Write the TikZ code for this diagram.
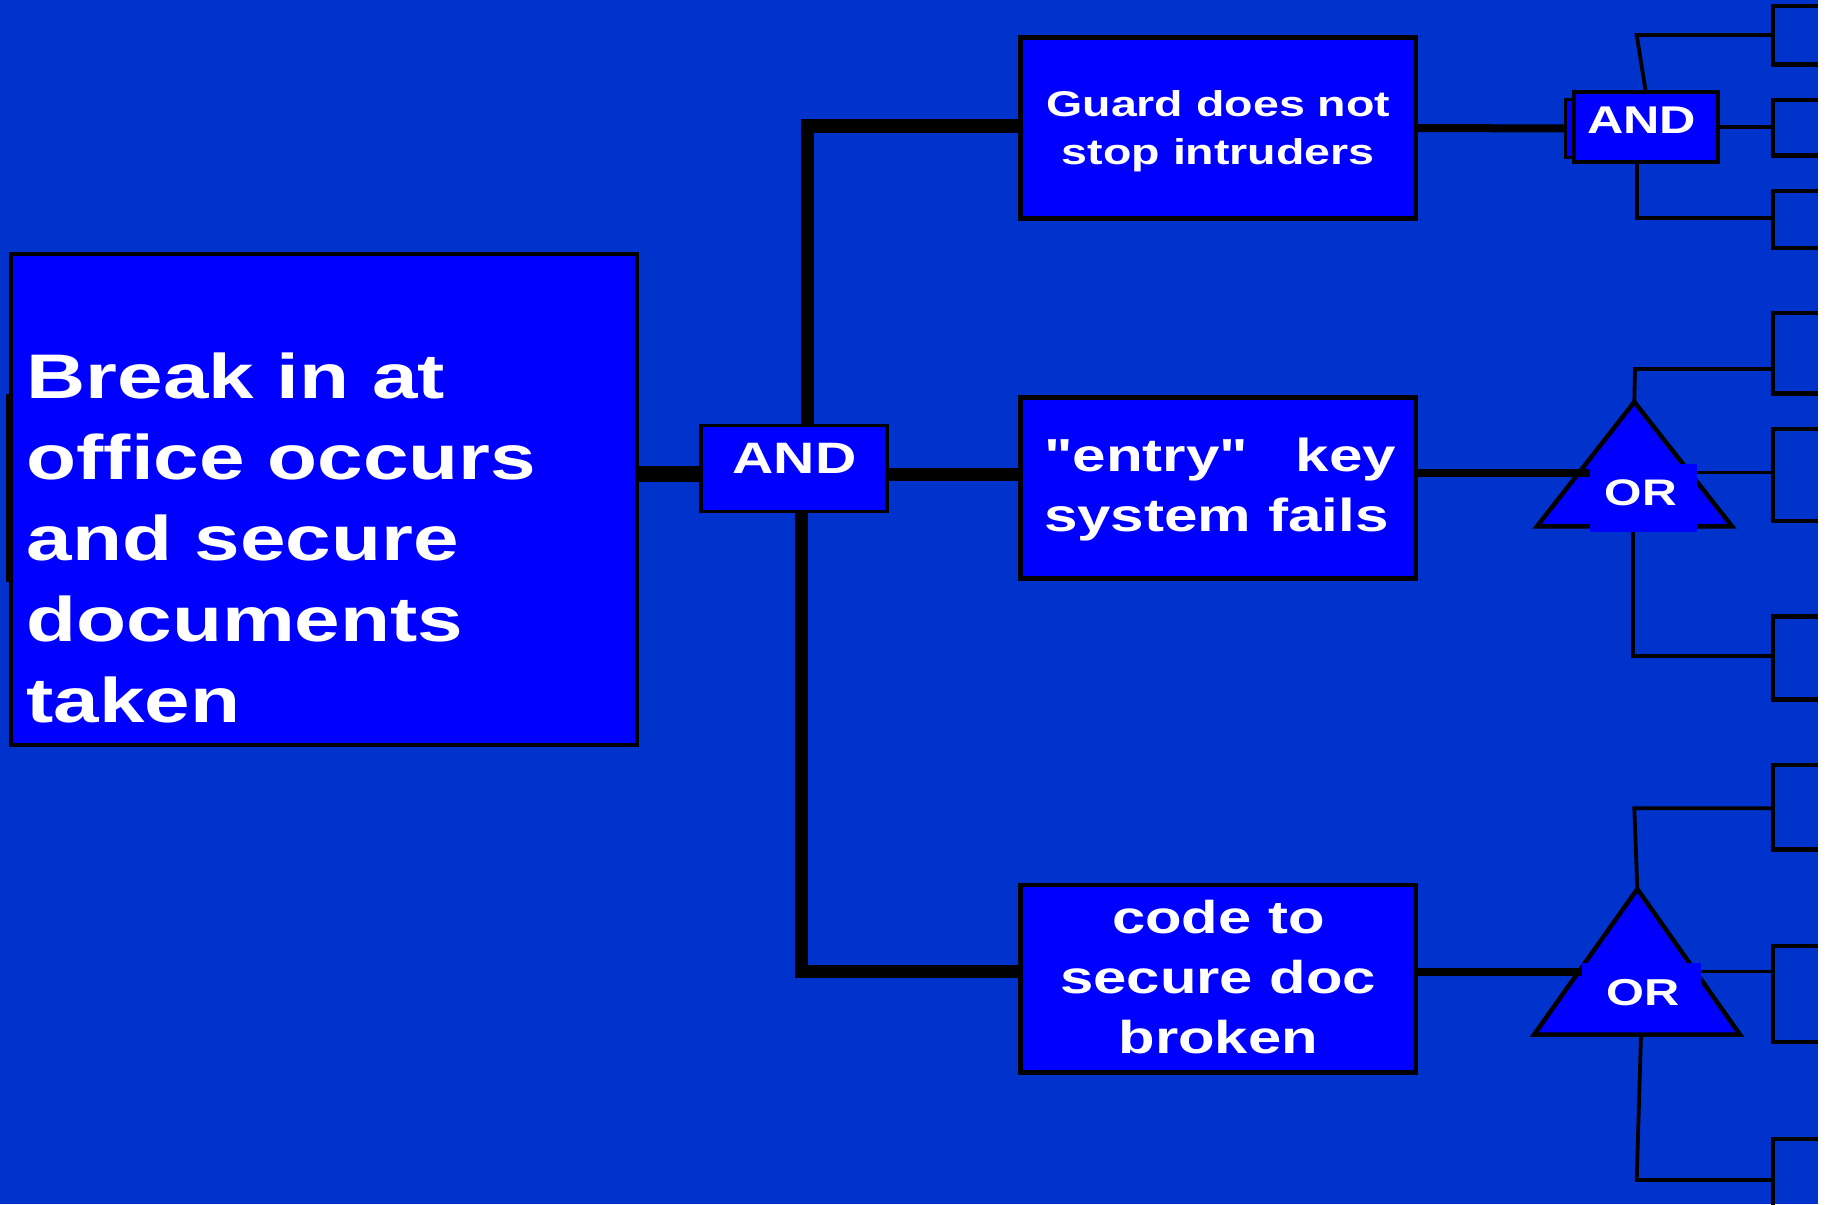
\documentclass[tikz,border=0pt]{standalone}
\usepackage{fontspec}
\setmainfont{Liberation Sans}[FakeStretch=1.3, Ligatures=TeXOff]
\usetikzlibrary{calc}
\definecolor{bgcol}{RGB}{0,51,204}
\definecolor{boxblue}{RGB}{0,0,255}
\newcommand\myfs[2]{\fontsize{#1}{#2}\selectfont\bfseries}
\newcommand\cstack[1]{\vtop{\halign{\hfil##\hfil\cr#1\crcr}}}
\newcommand\lstack[1]{\vtop{\halign{##\hfil\cr#1\crcr}}}
\pgfdeclarelayer{bgl}
\pgfdeclarelayer{tril}
\pgfdeclarelayer{linel}
\pgfdeclarelayer{topl}
\pgfsetlayers{bgl,tril,linel,main,topl}
\tikzset{
  box/.style={rectangle, draw=black, fill=boxblue, inner sep=0pt, outer sep=0pt},
  leafbox/.style={rectangle, draw=black, line width=4.5, inner sep=0pt, outer sep=0pt, minimum width=57},
  lab/.style={rectangle, fill=boxblue, inner sep=0pt, outer sep=0pt},
  txt/.style={text=white, inner sep=0pt, outer sep=0pt},
  wire/.style={draw=black, line width=3.8},
  midwire/.style={draw=black, line width=8},
  heavy/.style={draw=black, line width=13},
  gate/.style={draw=black, fill=boxblue, line width=4.5, line join=miter}
}
\begin{document}
\begin{tikzpicture}[x=1pt,y=-1pt]
\useasboundingbox (0,0) rectangle (1827,1204);
\begin{pgfonlayer}{bgl}
  \fill[bgcol] (0,0) rectangle (1827,1204);
\end{pgfonlayer}
\begin{pgfonlayer}{topl}
  \fill[white] (1818,-5) rectangle (1830,1210);
\end{pgfonlayer}

% boxes
\node[box, line width=4, minimum width=626, minimum height=491] (main) at (324,499.2) {};
\node[box, line width=3.5, minimum width=186.2, minimum height=85.8] (gate1) at (794.1,468.6) {};
\node[box, line width=4.7, minimum width=395.3, minimum height=181.3] (guard) at (1218.3,128) {};
\node[box, line width=4.7, minimum width=395.3, minimum height=181.3] (entry) at (1218.3,488) {};
\node[box, line width=4.7, minimum width=395.3, minimum height=187.6] (code) at (1218.3,978.8) {};
\node[box, line width=3, minimum width=34.2, minimum height=58.6] (gate2back) at (1582.9,128.5) {};
\node[box, line width=4.3, minimum width=144, minimum height=70] (gate2) at (1645.8,127.2) {};
\node[lab, minimum width=106.7, minimum height=68.3] (or1lab) at (1643.35,498.15) {};
\node[lab, minimum width=119.3, minimum height=68.3] (or2lab) at (1641.35,996.85) {};

% leaves
\node[leafbox, minimum height=58.3] (leaf1) at (1801.5,35.35) {};
\node[leafbox, minimum height=55.5] (leaf2) at (1801.5,127.75) {};
\node[leafbox, minimum height=57] (leaf3) at (1801.5,219.5) {};
\node[leafbox, minimum height=80.5] (leaf4) at (1801.5,353.25) {};
\node[leafbox, minimum height=92] (leaf5) at (1801.5,475) {};
\node[leafbox, minimum height=83] (leaf6) at (1801.5,658) {};
\node[leafbox, minimum height=84.5] (leaf7) at (1801.5,807.25) {};
\node[leafbox, minimum height=96] (leaf8) at (1801.5,994) {};
\node[leafbox, minimum height=81] (leaf9) at (1801.5,1179.5) {};

% texts
\node[txt, font=\myfs{63}{81}, anchor=base west] (maintxt) at (26.5,398.3)
  {\lstack{Break in at\cr office occurs\cr and secure\cr documents\cr taken}};
\node[txt, font=\myfs{35.8}{47.6}, anchor=base] (guardtxt) at (1218.3,116.7)
  {\cstack{Guard does not\cr stop intruders}};
\node[txt, font=\myfs{46.3}{60}, anchor=base west] (entrytxt) at (1044,471.7)
  {\lstack{\hbox to 352pt{"entry"\hfill key}\cr system fails}};
\node[txt, font=\myfs{46}{60.3}, anchor=base] (codetxt) at (1218.3,933.3)
  {\cstack{code to\cr secure doc\cr broken}};
\node[txt, font=\myfs{44}{50}, anchor=base] (and1txt) at (794.5,473.3) {AND};
\node[txt, font=\myfs{38.7}{45}, anchor=base] (and2txt) at (1641.7,133.3) {AND};
\node[txt, font=\myfs{37}{45}, anchor=base] (or1txt) at (1640.8,505) {OR};
\node[txt, font=\myfs{37.5}{45}, anchor=base] (or2txt) at (1643.3,1005) {OR};

% gate triangles
\coordinate (or1top) at (1634.3,402);
\coordinate (or1l) at (1537,526.3);
\coordinate (or1r) at (1732,526.3);
\coordinate (or2top) at (1637.3,889);
\coordinate (or2l) at (1534,1034.7);
\coordinate (or2r) at (1740,1034.7);
\begin{pgfonlayer}{tril}
  \path[gate] (or1top) -- (or1r) -- (or1l) -- cycle;
  \path[gate] (or2top) -- (or2r) -- (or2l) -- cycle;
\end{pgfonlayer}

% bend points
\coordinate (g1in) at ($(gate1.west)+(0,5.5)$);
\coordinate (gtop) at (807.5,126);
\coordinate (gbot) at (801,971);
\coordinate (g2a) at (1636.7,35);
\coordinate (g2b) at (1636.7,218.3);
\coordinate (o1a) at (1635,369);
\coordinate (o1b) at (1632.7,656);
\coordinate (o1in) at ($(or1lab.north west)+(0,8.5)$);
\coordinate (o2a) at (1634.3,808.3);
\coordinate (o2base) at (1641,1034.7);
\coordinate (o2b) at (1636.7,1180);
\coordinate (o2in) at ($(or2lab.north west)+(0,8.8)$);
\coordinate (tick1) at (7.6,394);
\coordinate (tick2) at (7.6,581.7);

\begin{pgfonlayer}{linel}
  \draw[line width=3] (tick1) -- (tick2);
  % top-level AND
  \draw[black, line width=16] (main.east |- g1in) -- (g1in);
  \draw[heavy] (gate1.east |- g1in) -- (entry.west |- g1in);
  \draw[heavy] (gtop |- gate1.north) -- (gtop) -- (guard.west |- gtop);
  \draw[heavy] (gbot |- gate1.south) -- (gbot) -- (code.west |- gbot);
  % guard branch
  \draw[midwire] (guard.east) -- (gate2back.west);
  \draw[wire] (gate2.north) -- (g2a) -- (leaf1.west |- g2a);
  \draw[wire] (gate2.east) -- (leaf2.west |- gate2.east);
  \draw[wire] (g2b |- gate2.south) -- (g2b) -- (leaf3.west |- g2b);
  % entry branch
  \draw[midwire] (entry.east |- o1in) -- (o1in);
  \draw[wire] (or1top) -- (o1a) -- (leaf4.west |- o1a);
  \draw[wire] (or1lab.east |- o1in) -- (leaf5.west |- o1in);
  \draw[wire] (o1b |- or1lab.south) -- (o1b) -- (leaf6.west |- o1b);
  % code branch
  \draw[midwire] (code.east |- o2in) -- (o2in);
  \draw[wire] (or2top) -- (o2a) -- (leaf7.west |- o2a);
  \draw[wire] (or2lab.east |- o2in) -- (leaf8.west |- o2in);
  \draw[wire] (o2base) -- (o2b) -- (leaf9.west |- o2b);
\end{pgfonlayer}
\end{tikzpicture}
\end{document}
